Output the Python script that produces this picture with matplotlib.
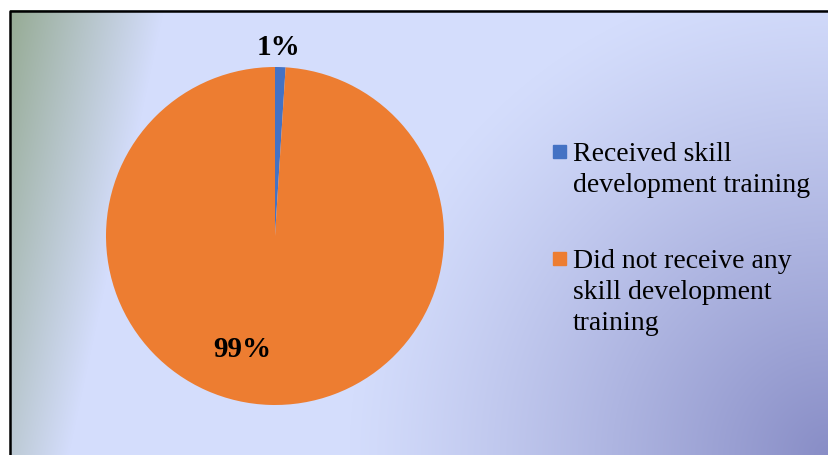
import numpy as np
import matplotlib.pyplot as plt
from matplotlib.patches import Rectangle

labels = ['Received skill\ndevelopment training',
          'Did not receive any\nskill development\ntraining']
shares = [1, 99]
colors = ['#4472c4', '#ed7d31']

W, H = 829, 456
fig = plt.figure(figsize=(W / 100, H / 100), dpi=100)

# gradient fill behind the chart: green top-left, pale lavender, purple bottom-right
yy, xx = np.mgrid[0:H, 0:W].astype(float)
light = np.array([212, 221, 252]) / 255
green = np.array([150, 171, 148]) / 255
purple = np.array([136, 141, 198]) / 255
g = np.clip(1 - (0.978 * (xx - 10) + 0.209 * (yy - 12)) / 150, 0, 1)[..., None]
d = np.hypot(W - xx, H - yy)
p = np.clip(1 - d / 480, 0, 1)[..., None] ** 1.15
img = light * (1 - g) + green * g
img = img * (1 - p) + purple * p
img[:11, :] = 1
img[:, :10] = 1

bg = fig.add_axes([0, 0, 1, 1])
bg.imshow(img, aspect='auto', interpolation='bilinear')
bg.plot([9.5, 9.5, W], [H, 11, 11], color='black', lw=1.8)
bg.set_xlim(-0.5, W - 0.5)
bg.set_ylim(H - 0.5, -0.5)
bg.axis('off')

# pie
cx, cy, r = 275, 237, 169
ax = fig.add_axes([(cx - r) / W, (H - cy - r) / H, 2 * r / W, 2 * r / H])
ax.pie(shares, colors=colors, startangle=90, counterclock=False, radius=1,
       wedgeprops=dict(linewidth=0))
ax.set_xlim(-1, 1)
ax.set_ylim(-1, 1)
ax.axis('off')

label_pos = [(1.124, 89), (0.695, 254)]
for val, (dist, ang) in zip(shares, label_pos):
    a = np.deg2rad(ang)
    ax.text(dist * np.cos(a), dist * np.sin(a), f'{val}%', ha='center', va='center',
            fontsize=21, fontweight='bold', family='Liberation Serif')

# legend to the right
base = 161
step = 31
for lab, col in zip(labels, colors):
    fig.add_artist(Rectangle((553 / W, 1 - (base - 2) / H), 13 / W, 13 / H,
                             transform=fig.transFigure, color=col))
    lines = lab.split('\n')
    for i, line in enumerate(lines):
        fig.text(573 / W, 1 - (base + i * step) / H, line, ha='left', va='baseline',
                 fontsize=20, family='Liberation Serif')
    base += len(lines) * step + 45

fig.savefig('out.png', dpi=100)
